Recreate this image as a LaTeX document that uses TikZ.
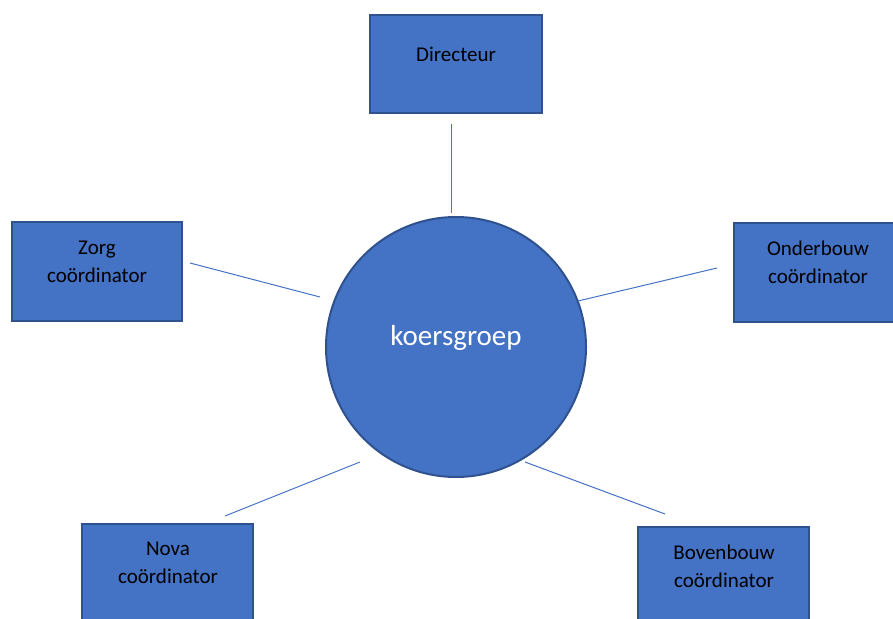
\documentclass[tikz,border=0pt]{standalone}
\usepackage{fontspec}
\setmainfont{Carlito}
\definecolor{fillblue}{HTML}{4472C4}
\definecolor{edgeblue}{HTML}{2F528F}
\begin{document}
\begin{tikzpicture}[x=1pt,y=-1pt,
  box/.style={draw=edgeblue,fill=fillblue,line width=1.5pt,inner sep=0pt,outer sep=0pt},
  lbl/.style={align=center,text=black,font=\fontsize{21}{28}\selectfont,inner sep=0pt},
  conn/.style={draw=fillblue,line width=1pt}]
\useasboundingbox (0,0) rectangle (893,618);
\clip (0,0) rectangle (893,618);
% boxes
\draw[box] (370,15) rectangle (542,113); \node[lbl] (dir) at (456,54.5) {Directeur};
\draw[box] (12,222) rectangle (182,321); \node[lbl] (zorg) at (97,262) {Zorg\\coördinator};
\draw[box] (734,223) rectangle (898,322); \node[lbl] (onder) at (818,262) {Onderbouw\\coördinator};
\draw[box] (82,524) rectangle (253,630); \node[lbl] (nova) at (168,563) {Nova\\coördinator};
\draw[box] (638,527) rectangle (809,630); \node[lbl] (boven) at (724,566) {Bovenbouw\\coördinator};
% circle
\node[circle,draw=edgeblue,fill=fillblue,line width=2pt,minimum size=260pt,inner sep=0pt] (kg) at (456,347) {};
\node[text=white,font=\fontsize{29}{34}\selectfont,inner sep=0pt] (kgt) at (456,338) {koersgroep};
% connector end points
\coordinate (d1) at (451,124); \coordinate (d2) at (451,213);
\coordinate (z1) at (190,263); \coordinate (z2) at (320,297);
\coordinate (o1) at (578,301); \coordinate (o2) at (717,268);
\coordinate (n1) at (225,516); \coordinate (n2) at (360,462);
\coordinate (b1) at (525,462); \coordinate (b2) at (665,514);
\draw[conn] (d1) -- (d2);
\draw[conn] (z1) -- (z2);
\draw[conn] (o1) -- (o2);
\draw[conn] (n1) -- (n2);
\draw[conn] (b1) -- (b2);
\end{tikzpicture}
\end{document}
